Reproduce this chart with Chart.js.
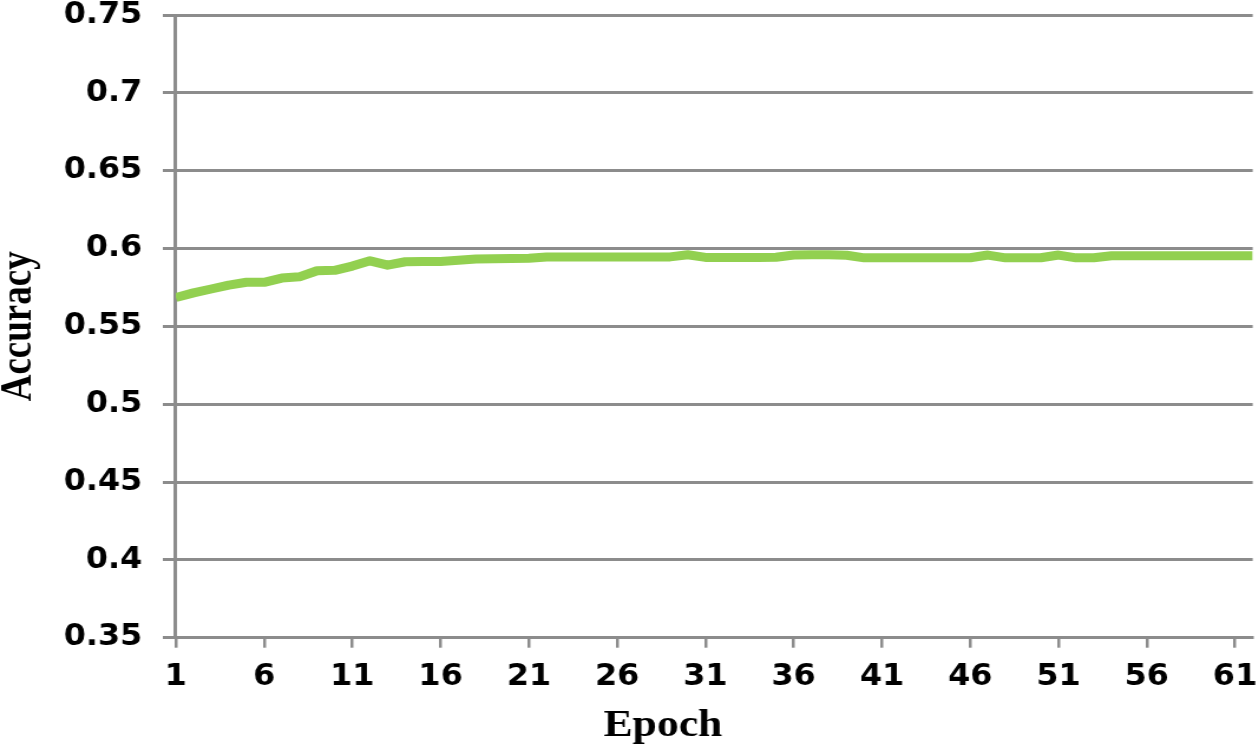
<!DOCTYPE html>
<html>
<head>
<meta charset="utf-8">
<script src="https://cdn.jsdelivr.net/npm/chart.js@4.4.1/dist/chart.umd.min.js"></script>
<style>
  html, body { margin: 0; padding: 0; background: #ffffff; overflow: hidden; }
  #wrap { position: absolute; left: 0; top: 0; width: 1068px; height: 749px;
          transform: scaleX(1.18); transform-origin: 0 0; }
</style>
</head>
<body>
<div id="wrap"><canvas id="c"></canvas></div>
<script>
const epochs = [1,2,3,4,5,6,7,8,9,10,11,12,13,14,15,16,17,18,19,20,21,22,23,24,25,26,27,28,29,30,31,32,33,34,35,36,37,38,39,40,41,42,43,44,45,46,47,48,49,50,51,52,53,54,55,56,57,58,59,60,61,62];
const accuracy = [
  0.5685, 0.5715, 0.5740, 0.5765, 0.5783, 0.5783, 0.5810, 0.5818, 0.5857, 0.5860,
  0.5887, 0.5921, 0.5893, 0.5915, 0.5917, 0.5917, 0.5925, 0.5932, 0.5934, 0.5936,
  0.5937, 0.5945, 0.5945, 0.5945, 0.5945, 0.5945, 0.5945, 0.5945, 0.5946, 0.5960,
  0.5943, 0.5943, 0.5943, 0.5943, 0.5944, 0.5958, 0.5960, 0.5960, 0.5957, 0.5940,
  0.5940, 0.5940, 0.5940, 0.5940, 0.5940, 0.5941, 0.5958, 0.5940, 0.5940, 0.5941,
  0.5958, 0.5940, 0.5941, 0.5953, 0.5953, 0.5953, 0.5953, 0.5953, 0.5953, 0.5953,
  0.5953, 0.5953
];
const xTickValues = [1, 6, 11, 16, 21, 26, 31, 36, 41, 46, 51, 56, 61];
const yTickValues = [0.35, 0.40, 0.45, 0.50, 0.55, 0.60, 0.65, 0.70, 0.75];
const yTickLabels = ['0.35', '0.4', '0.45', '0.5', '0.55', '0.6', '0.65', '0.7', '0.75'];
const xTitle = 'Epoch';
const yTitle = 'Accuracy';

const gridGray = '#8c8c8c';
const tickFont = { family: '"DejaVu Sans Condensed", "DejaVu Sans", sans-serif', size: 30, weight: 'bold' };

const xTitlePlugin = {
  id: 'xTitleOffset',
  afterDraw(chart) {
    const { ctx, chartArea } = chart;
    ctx.save();
    ctx.font = 'bold 37px "Liberation Serif"';
    ctx.fillStyle = '#000000';
    ctx.textAlign = 'center';
    ctx.textBaseline = 'alphabetic';
    ctx.fillText(xTitle, chartArea.left + 0.4523 * (chartArea.right - chartArea.left), chartArea.bottom + 98);
    ctx.restore();
  }
};

new Chart(document.getElementById('c'), {
  type: 'line',
  data: {
    datasets: [{
      data: epochs.map((e, i) => ({ x: e, y: accuracy[i] })),
      borderColor: '#92D050',
      borderWidth: 9,
      pointRadius: 0,
      tension: 0,
      fill: false,
      borderJoinStyle: 'round'
    }]
  },
  options: {
    responsive: true,
    maintainAspectRatio: false,
    animation: false,
    layout: { padding: { top: 15, right: 6.4, bottom: 41.3, left: 0 } },
    plugins: { legend: { display: false }, tooltip: { enabled: false } },
    scales: {
      x: {
        type: 'linear',
        min: 1,
        max: 62,
        afterBuildTicks(scale) { scale.ticks = xTickValues.map(v => ({ value: v })); },
        afterFit(scale) { scale.paddingLeft = 0; scale.paddingRight = 0; },
        grid: { drawOnChartArea: false, drawTicks: true, tickLength: 10, color: gridGray, lineWidth: 2.5 },
        border: { display: true, color: gridGray, width: 3 },
        ticks: {
          autoSkip: false, maxRotation: 0, padding: 12, color: '#000000',
          font: Object.assign({ lineHeight: 1.2 }, tickFont),
          callback: (v) => String(v)
        }
      },
      y: {
        min: 0.35,
        max: 0.75,
        afterBuildTicks(scale) { scale.ticks = yTickValues.map(v => ({ value: v })); },
        afterFit(scale) { scale.paddingTop = 0; scale.paddingBottom = 0; },
        grid: { color: gridGray, lineWidth: 3, tickLength: 11, drawTicks: true },
        border: { display: true, color: gridGray, width: 3 },
        ticks: {
          padding: 17.5, color: '#000000',
          font: Object.assign({ lineHeight: 1.0 }, tickFont),
          callback: (v, i) => yTickLabels[i]
        },
        title: {
          display: true, text: yTitle, color: '#000000',
          font: { family: '"Liberation Serif"', size: 37, weight: 'bold', lineHeight: 0.9 },
          padding: { top: 0, bottom: 3.1 }
        }
      }
    }
  },
  plugins: [xTitlePlugin]
});
</script>
</body>
</html>
